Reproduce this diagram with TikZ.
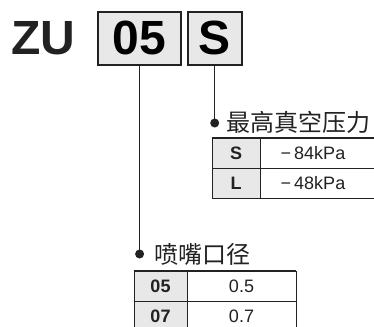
\documentclass[tikz,border=0pt]{standalone}
\usepackage{fontspec}
\setmainfont{Liberation Sans}
\newfontfamily\cjk{Noto Sans CJK SC}
\definecolor{ink}{HTML}{222222}
\definecolor{shade}{HTML}{E8E8E8}
\begin{document}
\begin{tikzpicture}[x=1pt,y=-1pt]
\tikzset{
  codebox/.style={draw=ink, line width=1.6pt, fill=shade, inner sep=0pt,
    font=\fontsize{48}{48}\selectfont\bfseries},
  bigtext/.style={inner sep=0pt, font=\fontsize{48}{48}\selectfont\bfseries, text=ink},
  cellfont/.style={font=\fontsize{18}{18}\selectfont, text=ink},
  cell/.style={draw=ink, line width=0.8pt, inner sep=0pt, minimum height=30pt, cellfont},
  keycell/.style={cell, fill=shade, font=\fontsize{18}{18}\selectfont\bfseries},
  title/.style={font=\cjk\fontsize{24}{24}\selectfont, inner sep=0pt, anchor=base west, text=ink},
  lead/.style={draw=ink, line width=1.4pt},
  dot/.style={circle, fill=ink, inner sep=0pt, minimum size=9pt},
  topline/.style={draw=ink, line width=2pt}
}
\useasboundingbox (0,0) rectangle (374,326);
\fill[white] (0,0) rectangle (374,326);

% model code
\node[bigtext, anchor=base west] (zu) at (11,55) {ZU};
\node[codebox, minimum width=83pt, minimum height=53pt] (b05) at (139.6,38.3) {05};
\node[codebox, minimum width=54pt, minimum height=53pt] (bs) at (214.7,38.3) {S};

% bullets
\node[dot] (ds) at (214.7,123) {};
\node[dot] (d05) at (139.6,254) {};
\draw[lead] (bs.south) -- (ds.center);
\draw[lead] (b05.south) -- (d05.center);

% titles
\node[title] (ts) at (226,131) {最高真空压力};
\node[title] (t05) at (154,263) {喷嘴口径};

% upper table
\node[keycell, minimum width=48pt] (s1) at (236,153) {S};
\node[cell, minimum width=116pt, label={[xshift=-5pt, cellfont]center:−\,84kPa}] (v1) at (318,153) {};
\node[keycell, minimum width=48pt] (s2) at (236,183) {L};
\node[cell, minimum width=116pt, label={[xshift=-5pt, cellfont]center:−\,48kPa}] (v2) at (318,183) {};
\draw[topline] (s1.north west) -- (v1.north east);

% lower table
\node[keycell, minimum width=53pt] (k1) at (160.5,286) {05};
\node[cell, minimum width=109pt] (w1) at (241.5,286) {0.5};
\node[keycell, minimum width=53pt] (k2) at (160.5,316) {07};
\node[cell, minimum width=109pt] (w2) at (241.5,316) {0.7};
\draw[topline] (k1.north west) -- (w1.north east);
\end{tikzpicture}
\end{document}
